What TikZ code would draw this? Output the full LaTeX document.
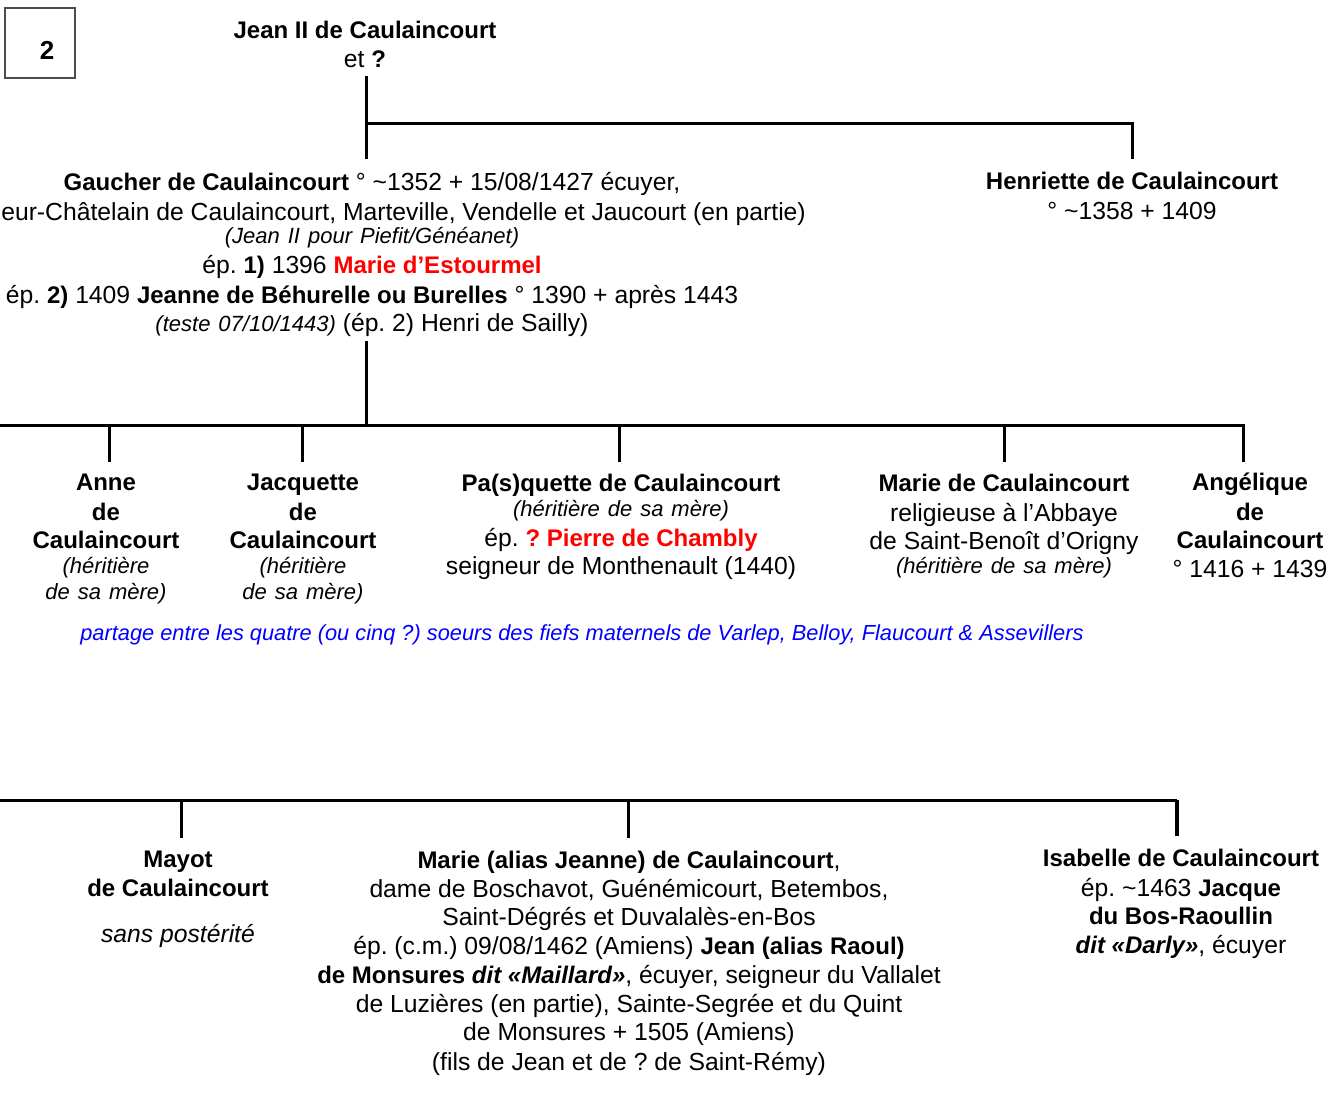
\documentclass[tikz,border=0pt]{standalone}
\usepackage{fontspec}
\setmainfont{Liberation Sans}
\usepackage{xcolor}
\frenchspacing
\newcommand\petit{\fontsize{22}{29}\selectfont\itshape\spaceskip=8pt\relax}
\newcommand\B[1]{{\fontsize{24}{29}\selectfont\bfseries #1}}
\tikzset{
  link/.style={line width=3pt, line cap=butt},
  person/.style={anchor=north, align=center, inner sep=0pt, font=\fontsize{24.7}{29}\selectfont},
  numframe/.style={draw=black!70, line width=1.3pt, minimum width=70pt, minimum height=70pt, inner sep=0pt},
  numtext/.style={inner sep=0pt, font=\fontsize{26}{30}\selectfont\bfseries},
  note/.style={anchor=base, inner sep=0pt, text=blue, font=\fontsize{21.8}{26}\selectfont\itshape}
}
\begin{document}
\begin{tikzpicture}[x=1pt,y=-1pt]
\useasboundingbox (0,0) rectangle (1330,1111);
% box
\node[numframe] (frame) at (40,43) {};
\node[numtext] (num) at (47,50) {2};
% generation 1
\node[person] (jean) at (365,21) {\B{Jean II de Caulaincourt}\\ et \B{?}};
% generation 2
\node[person] (gaucher) at (372,172) {\B{Gaucher de Caulaincourt} ° \textasciitilde1352 + 15/08/1427 écuyer,\\[1pt]
Seigneur-Châtelain de Caulaincourt, Marteville, Vendelle et Jaucourt (en partie)\\[-5.6pt]
{\petit (Jean II pour Piefit/Généanet)}\\[0.6pt]
ép. \B{1)} 1396 \B{\color{red}Marie d’Estourmel}\\[1pt]
ép. \B{2)} 1409 \B{Jeanne de Béhurelle ou Burelles} ° 1390 + après 1443\\[-1pt]
{\petit (teste 07/10/1443)} (ép. 2) Henri de Sailly)};
\node[person] (henriette) at (1132,172) {\B{Henriette de Caulaincourt}\\[1pt] ° \textasciitilde1358 + 1409};
% generation 3
\node[person] (anne) at (106,474) {\B{Anne}\\[1pt] \B{de}\\[-1pt] \B{Caulaincourt}\\[-4.6pt] {\petit (héritière}\\[-3pt] {\petit de sa mère)}};
\node[person] (jacquette) at (303,474) {\B{Jacquette}\\[1pt] \B{de}\\[-1pt] \B{Caulaincourt}\\[-4.6pt] {\petit (héritière}\\[-3pt] {\petit de sa mère)}};
\node[person] (pasquette) at (621,474) {\B{Pa(s)quette de Caulaincourt}\\[-3.6pt] {\petit (héritière de sa mère)}\\[0.6pt] ép. \B{\color{red}? Pierre de Chambly}\\[-1pt] seigneur de Monthenault (1440)};
\node[person] (marie) at (1004,474) {\B{Marie de Caulaincourt}\\[1pt] religieuse à l’Abbaye\\[-1pt] de Saint-Benoît d’Origny\\[-4.6pt] {\petit (héritière de sa mère)}};
\node[person] (angelique) at (1250,473) {\B{Angélique}\\[1pt] \B{de}\\[-1pt] \B{Caulaincourt}\\ ° 1416 + 1439};
\node[note] (partage) at (582,640) {partage entre les quatre (ou cinq ?) soeurs des fiefs maternels de Varlep, Belloy, Flaucourt \& Assevillers};
% generation 4
\node[person] (mayot) at (178,851) {\B{Mayot}\\ \B{de Caulaincourt}\\[17pt] \textit{sans postérité}};
\node[person] (mariej) at (629,851) {\B{Marie (alias Jeanne) de Caulaincourt},\\
dame de Boschavot, Guénémicourt, Betembos,\\[-1pt]
Saint-Dégrés et Duvalalès-en-Bos\\
ép. (c.m.) 09/08/1462 (Amiens) \B{Jean (alias Raoul)}\\
\B{de Monsures \itshape dit «Maillard»}, écuyer, seigneur du Vallalet\\
de Luzières (en partie), Sainte-Segrée et du Quint\\[-1pt]
de Monsures + 1505 (Amiens)\\[1pt]
(fils de Jean et de ? de Saint-Rémy)};
\node[person] (isabelle) at (1181,849) {\B{Isabelle de Caulaincourt}\\[1pt] ép. \textasciitilde1463 \B{Jacque}\\[-1pt] \B{du Bos-Raoullin}\\ \B{\itshape dit «Darly»}, écuyer};
% connector points
\coordinate (j0) at (366,76);
\coordinate (j1) at (366,123);
\coordinate (j2) at (366,159);
\coordinate (h0) at (1132,123);
\coordinate (h1) at (1132,159);
\coordinate (g0) at (366,341);
\coordinate (g1) at (366,425);
\coordinate (bl) at (-10,425);
\coordinate (br) at (1243,425);
\coordinate (c1) at (109,425);
\coordinate (c1e) at (109,462);
\coordinate (c2) at (302,425);
\coordinate (c2e) at (302,462);
\coordinate (c3) at (619,425);
\coordinate (c3e) at (619,462);
\coordinate (c4) at (1004,425);
\coordinate (c4e) at (1004,462);
\coordinate (c5e) at (1243,462);
\coordinate (dl) at (-10,800);
\coordinate (dr) at (1177,800);
\coordinate (d1) at (181,800);
\coordinate (d1e) at (181,838);
\coordinate (d2) at (628,800);
\coordinate (d2e) at (628,838);
\coordinate (d3e) at (1177,836);
% connectors
\draw[link] (j0) -- (j2);
\draw[link] (j1) -- (h0) -- (h1);
\draw[link] (g0) -- (g1);
\draw[link] (bl) -- (br) -- (c5e);
\draw[link] (c1) -- (c1e);
\draw[link] (c2) -- (c2e);
\draw[link] (c3) -- (c3e);
\draw[link] (c4) -- (c4e);
\draw[link] (dl) -- (dr);
\draw[link] (d1) -- (d1e);
\draw[link] (d2) -- (d2e);
\draw[link, line width=3.5pt] (dr) -- (d3e);
\end{tikzpicture}
\end{document}
